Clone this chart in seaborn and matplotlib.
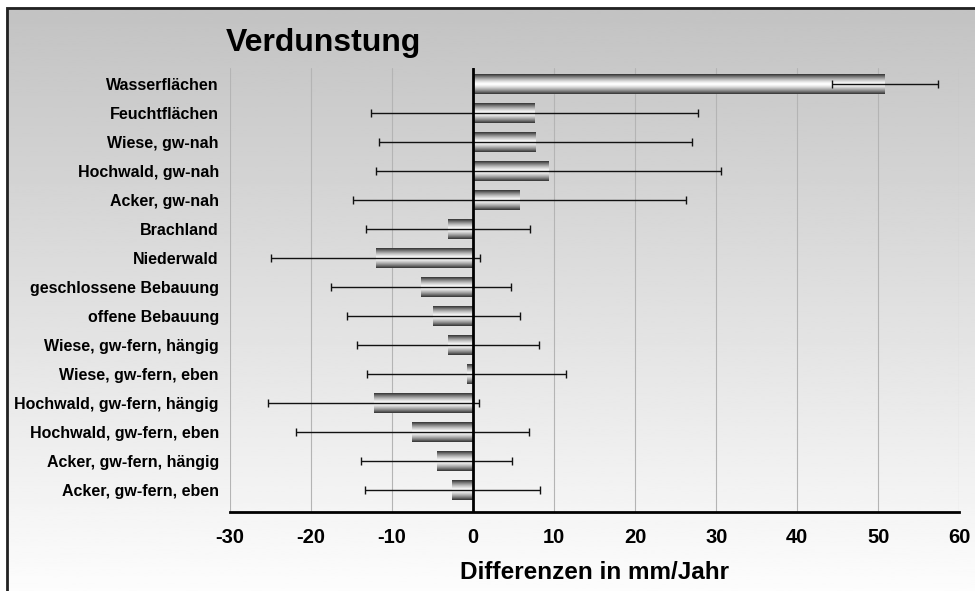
import numpy as np
import pandas as pd
import seaborn as sns
from matplotlib import pyplot as plt
from matplotlib.patches import Rectangle

sns.set_style("white")
plt.rcParams['font.family'] = ['Liberation Sans', 'DejaVu Sans']
plt.rcParams.update({'text.color': 'black', 'xtick.color': 'black',
                     'ytick.color': 'black', 'axes.labelcolor': 'black'})

# data (mm/Jahr)
categories = ["Wasserflächen", "Feuchtflächen", "Wiese, gw-nah", "Hochwald, gw-nah",
              "Acker, gw-nah", "Brachland", "Niederwald", "geschlossene Bebauung",
              "offene Bebauung", "Wiese, gw-fern, hängig", "Wiese, gw-fern, eben",
              "Hochwald, gw-fern, hängig", "Hochwald, gw-fern, eben",
              "Acker, gw-fern, hängig", "Acker, gw-fern, eben"]
values = [50.8, 7.6, 7.7, 9.3, 5.7, -3.1, -12.0, -6.4, -4.9, -3.1, -0.8, -12.3, -7.5, -4.5, -2.6]
errors = [6.5, 20.2, 19.3, 21.3, 20.5, 10.1, 12.9, 11.1, 10.7, 11.2, 12.3, 13.0, 14.4, 9.3, 10.8]
xticks = [-30, -20, -10, 0, 10, 20, 30, 40, 50, 60]

df = pd.DataFrame({"Kategorie": categories, "Differenz": values, "Fehler": errors})

fig = plt.figure(figsize=(9.75, 5.91), dpi=100)

# background gradient (grey top -> white bottom)
bg = fig.add_axes([0, 0, 1, 1], zorder=-10)
grad = np.linspace(0.76, 0.99, 256).reshape(-1, 1)
bg.imshow(grad, cmap="gray", vmin=0, vmax=1, aspect="auto", extent=[0, 1, 0, 1], origin="upper")
bg.set_axis_off()
# outer frame
fig.patches.append(Rectangle((0, -0.01), 0.0065, 1.02, transform=fig.transFigure,
                             facecolor="white", edgecolor="none", zorder=-5))
fig.patches.append(Rectangle((0, 0.988), 1.0, 0.02, transform=fig.transFigure,
                             facecolor="white", edgecolor="none", zorder=-5))
fig.patches.append(Rectangle((0.0075, -0.02), 1.0, 1.0065, transform=fig.transFigure,
                             facecolor="none", edgecolor="#222222", lw=2, zorder=-4))

ax = fig.add_axes([0.236, 0.134, 0.748, 0.751])
ax.patch.set_alpha(0)

sns.barplot(data=df, x="Differenz", y="Kategorie", orient="h", color="#888888",
            width=0.68, ax=ax)

# cylinder-like shading on each bar
t = np.linspace(-1, 1, 64)
shade = (1 - 0.8 * np.abs(t) ** 1.4).reshape(-1, 1)
for p in ax.patches:
    x0, y0 = p.get_x(), p.get_y()
    w, h = p.get_width(), p.get_height()
    im = ax.imshow(shade, cmap="gray", vmin=0, vmax=1, aspect="auto",
                   extent=[x0, x0 + w, y0 + h, y0], zorder=2, interpolation="bilinear")
    im.set_clip_path(p)
    p.set_edgecolor("none")

ax.errorbar(df["Differenz"], np.arange(len(df)), xerr=df["Fehler"], fmt="none",
            ecolor="#111111", elinewidth=1, capsize=3, capthick=1, zorder=4)

ax.axvline(0, color="black", lw=2, zorder=5)
ax.set_xlim(-30, 60)
ax.set_ylim(len(df) - 0.25, -0.55)
ax.set_xticks(xticks)
ax.set_xticklabels([str(v) for v in xticks], fontsize=14.5, fontweight="bold")
ax.tick_params(axis="x", length=0, pad=12)
ax.tick_params(axis="y", length=0, pad=8, labelsize=11.5)
for lab in ax.get_yticklabels():
    lab.set_fontweight("bold")
ax.grid(axis="x", color="#b4b4b4", lw=0.8)
ax.set_axisbelow(True)
for s in ["top", "right", "left"]:
    ax.spines[s].set_visible(False)
ax.spines["bottom"].set_linewidth(2)
ax.spines["bottom"].set_color("black")
ax.set_ylabel("")
ax.set_xlabel("Differenzen in mm/Jahr", fontsize=17.5, fontweight="bold", labelpad=10)

fig.text(0.232, 0.928, "Verdunstung", fontsize=23, fontweight="bold", va="center")

fig.savefig("out.png", dpi=100)
